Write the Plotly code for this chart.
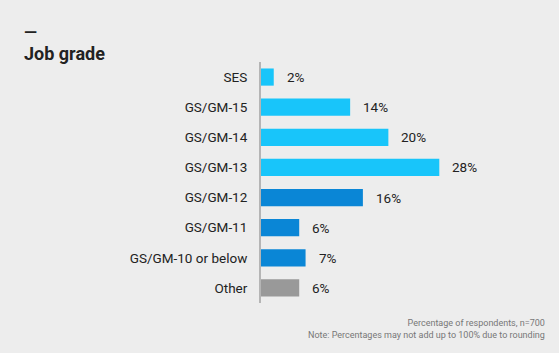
import plotly.graph_objects as go

categories = ["SES", "GS/GM-15", "GS/GM-14", "GS/GM-13", "GS/GM-12", "GS/GM-11", "GS/GM-10 or below", "Other"]
values = [2, 14, 20, 28, 16, 6, 7, 6]
colors = ["#18C5FA", "#18C5FA", "#18C5FA", "#18C5FA", "#0A86D6", "#0A86D6", "#0A86D6", "#999999"]
value_labels = [f"{v}%" for v in values]

BG = "#EDEDED"

fig = go.Figure()
fig.add_trace(go.Bar(
    x=values, y=categories, orientation="h",
    marker=dict(color=colors, line=dict(width=0)),
    hoverinfo="skip",
))

for c, v, t in zip(categories, values, value_labels):
    fig.add_annotation(x=v, y=c, text=t, showarrow=False, xanchor="left",
                       xshift=11, font=dict(size=13.5, color="#222", family="Roboto"))

fig.add_annotation(xref="paper", yref="paper", x=1, y=-0.055, xanchor="right", yanchor="top",
                   xshift=9,
                   text="Percentage of respondents, n=700<br>Note: Percentages may not add up to 100% due to rounding",
                   showarrow=False, align="right",
                   font=dict(size=9, color="#777", family="Roboto"))

# title dash and title
fig.add_annotation(xref="paper", yref="paper", x=(22 - 261) / 277, y=1 + 30 / 241, xanchor="left", yanchor="middle",
                   text="<b>—</b>", showarrow=False, font=dict(size=17, color="#222", family="Roboto"))
fig.add_annotation(xref="paper", yref="paper", x=(22 - 261) / 277, y=1 + 8 / 241, xanchor="left", yanchor="middle",
                   text="<b>Job grade</b>", showarrow=False, font=dict(size=18, color="#222", family="Roboto"))

fig.update_layout(
    width=559, height=353,
    paper_bgcolor=BG, plot_bgcolor=BG,
    margin=dict(l=261, r=21, t=62, b=50),
    bargap=0.43,
    showlegend=False,
    font=dict(family="Roboto", color="#222"),
    xaxis=dict(range=[0, 43.5], visible=False, fixedrange=True),
    yaxis=dict(autorange="reversed", showline=True, linecolor="#B5B5B5", linewidth=2,
               showgrid=False, zeroline=False, ticks="", ticklabelstandoff=9,
               tickfont=dict(size=13.5, color="#222", family="Roboto")),
)

fig.write_html("out.html")
